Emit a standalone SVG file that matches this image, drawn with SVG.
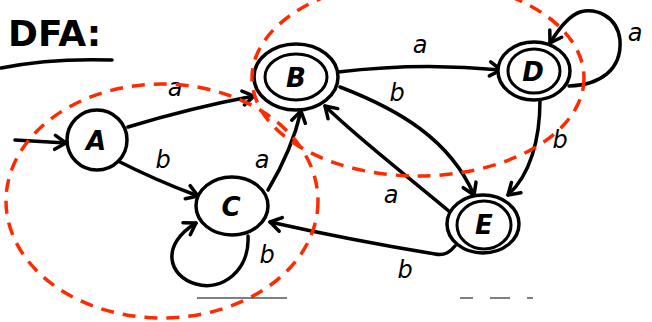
<svg xmlns="http://www.w3.org/2000/svg" width="652" height="322" viewBox="0 0 652 322">
<style>
.st{fill:none;stroke:#000;stroke-width:3.5;stroke-linecap:round;stroke-linejoin:round}
.ring{fill:#fff;stroke:#000;stroke-width:3.5}
.inner{fill:none;stroke:#000;stroke-width:3}
.red{fill:none;stroke:#ff2a00;stroke-width:3.5;stroke-dasharray:13 9}
.lbl{font-family:"DejaVu Sans","Liberation Sans",sans-serif;font-style:italic;font-size:24px;fill:#000;text-anchor:middle;dominant-baseline:central}
.nl{font-family:"DejaVu Sans","Liberation Sans",sans-serif;font-style:italic;font-weight:bold;font-size:26px;fill:#000;text-anchor:middle;dominant-baseline:central}
.ttl{font-family:"DejaVu Sans","Liberation Sans",sans-serif;font-weight:bold;font-size:36px;fill:#000}
</style>
<defs>
<marker id="ah" markerUnits="userSpaceOnUse" markerWidth="30" markerHeight="30" refX="0" refY="0" viewBox="-15 -15 30 30" orient="auto">
<path d="M-11,-7 L0,0 L-11,7" fill="none" stroke="#000" stroke-width="3.5" stroke-linecap="round" stroke-linejoin="round"/>
</marker>
</defs>
<rect width="652" height="322" fill="#fff"/>
<g id="title">
<text class="ttl" x="8" y="46">DFA:</text>
<path d="M1,68 Q50,58 112,60" class="st" stroke-width="4"/>
</g>
<g id="connectors">
<path class="st" d="M15,140 L66,143" marker-end="url(#ah)"/>
<path class="st" d="M128,127 Q190,108 254,96" marker-end="url(#ah)"/>
<path class="st" d="M116,160 Q155,180 198,196" marker-end="url(#ah)"/>
<path class="st" d="M268,190 Q292,150 301,111" marker-end="url(#ah)"/>
<path class="st" d="M248,236 C250,270 222,292 196,284 C168,276 160,245 196,223" marker-end="url(#ah)"/>
<path class="st" d="M338,72 Q420,62 501,70" marker-end="url(#ah)"/>
<path class="st" d="M569,86 C600,85 622,70 620,40 C617,15 595,8 580,12 C568,16 558,30 550,43" marker-end="url(#ah)"/>
<path class="st" d="M540,100 C540,140 530,175 508,195" marker-end="url(#ah)"/>
<path class="st" d="M340,87 C400,110 450,140 474,195" marker-end="url(#ah)"/>
<path class="st" d="M450,212 C400,170 360,140 325,106" marker-end="url(#ah)"/>
<path class="st" d="M455,246 C450,252 445,256 435,254 Q350,240 270,222" marker-end="url(#ah)"/>
<text class="lbl" x="175" y="88">a</text>
<text class="lbl" x="163" y="160">b</text>
<text class="lbl" x="262" y="160">a</text>
<text class="lbl" x="267" y="255">b</text>
<text class="lbl" x="420" y="45">a</text>
<text class="lbl" x="635" y="33">a</text>
<text class="lbl" x="560" y="140">b</text>
<text class="lbl" x="397" y="93">b</text>
<text class="lbl" x="391" y="195">a</text>
<text class="lbl" x="405" y="270">b</text>
</g>
<g id="A"><ellipse class="ring" cx="97" cy="140" rx="30" ry="30"/><text class="nl" x="96" y="141">A</text></g>
<g id="B"><ellipse class="ring" cx="296" cy="77" rx="42" ry="33"/><ellipse class="inner" cx="296" cy="77" rx="31" ry="23"/><text class="nl" x="296" y="78">B</text></g>
<g id="C"><ellipse class="ring" cx="232" cy="206" rx="36" ry="29"/><text class="nl" x="231" y="207">C</text></g>
<g id="D"><ellipse class="ring" cx="534" cy="71" rx="36" ry="29"/><ellipse class="inner" cx="534" cy="71" rx="26" ry="22"/><text class="nl" x="533" y="72">D</text></g>
<g id="E"><ellipse class="ring" cx="483" cy="224" rx="36" ry="29"/><ellipse class="inner" cx="484" cy="225" rx="27" ry="24"/><text class="nl" x="484" y="225">E</text></g>
<g id="groups">
<ellipse class="red" cx="162" cy="201" rx="156" ry="117"/>
<ellipse class="red" cx="418" cy="78" rx="166" ry="98"/>
</g>
<g id="artifacts" stroke="#555" stroke-width="1.5">
<path d="M197,298 H287 M240,298 H283 M460,298 H473 M490,298 H510 M527,298 H533"/>
</g>
</svg>
